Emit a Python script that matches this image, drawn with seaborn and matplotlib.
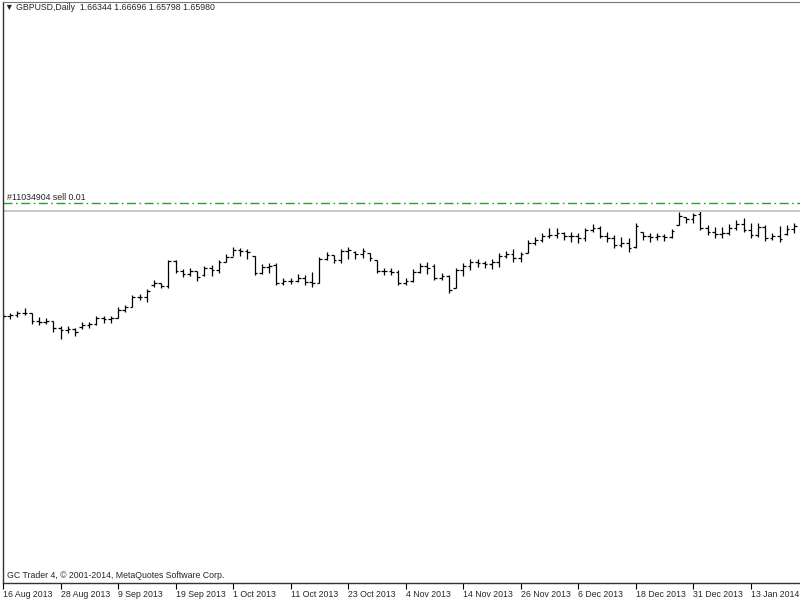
import matplotlib
matplotlib.use("Agg")
import matplotlib.pyplot as plt
import seaborn as sns

sns.set_style("white")
plt.rcParams['font.family'] = ['Liberation Sans', 'DejaVu Sans']

# GBPUSD daily bars, 16 Aug 2013 .. ~20 Jan 2014
opens = [1.554, 1.555, 1.556, 1.558, 1.558, 1.550, 1.549, 1.550, 1.543, 1.541,
         1.542, 1.544, 1.546, 1.547, 1.553, 1.552, 1.553, 1.561, 1.564, 1.574,
         1.574, 1.586, 1.588, 1.585, 1.610, 1.600, 1.597, 1.600, 1.596, 1.603,
         1.601, 1.609, 1.614, 1.621, 1.620, 1.615, 1.598, 1.604, 1.606, 1.588,
         1.590, 1.590, 1.593, 1.589, 1.588, 1.612, 1.616, 1.611, 1.620, 1.619,
         1.617, 1.618, 1.611, 1.600, 1.600, 1.599, 1.588, 1.590, 1.599, 1.605,
         1.605, 1.593, 1.595, 1.583, 1.601, 1.605, 1.609, 1.608, 1.607, 1.609,
         1.615, 1.617, 1.613, 1.618, 1.628, 1.631, 1.635, 1.636, 1.638, 1.635,
         1.635, 1.633, 1.641, 1.643, 1.635, 1.633, 1.626, 1.628, 1.624, 1.639,
         1.635, 1.634, 1.635, 1.634, 1.646, 1.654, 1.652, 1.657, 1.643, 1.639,
         1.637, 1.638, 1.643, 1.647, 1.641, 1.636, 1.644, 1.633, 1.635, 1.637,
         1.642]
highs = [1.558, 1.558, 1.560, 1.563, 1.558, 1.554, 1.553, 1.550, 1.545, 1.545,
         1.543, 1.549, 1.549, 1.555, 1.555, 1.555, 1.564, 1.566, 1.576, 1.577,
         1.582, 1.591, 1.588, 1.611, 1.611, 1.602, 1.603, 1.600, 1.605, 1.606,
         1.611, 1.617, 1.624, 1.623, 1.622, 1.615, 1.607, 1.608, 1.608, 1.593,
         1.593, 1.597, 1.596, 1.599, 1.614, 1.619, 1.616, 1.622, 1.624, 1.620,
         1.623, 1.618, 1.611, 1.603, 1.603, 1.601, 1.593, 1.602, 1.608, 1.609,
         1.607, 1.598, 1.596, 1.603, 1.608, 1.612, 1.612, 1.610, 1.612, 1.618,
         1.620, 1.622, 1.619, 1.631, 1.634, 1.638, 1.643, 1.643, 1.639, 1.639,
         1.638, 1.643, 1.647, 1.645, 1.639, 1.636, 1.634, 1.633, 1.648, 1.639,
         1.638, 1.638, 1.637, 1.642, 1.659, 1.654, 1.658, 1.660, 1.646, 1.644,
         1.644, 1.647, 1.651, 1.653, 1.648, 1.648, 1.646, 1.638, 1.645, 1.646,
         1.648]
lows = [1.551, 1.552, 1.554, 1.556, 1.547, 1.546, 1.547, 1.539, 1.532, 1.538,
        1.535, 1.542, 1.543, 1.546, 1.548, 1.548, 1.553, 1.559, 1.564, 1.571,
        1.569, 1.584, 1.583, 1.583, 1.598, 1.594, 1.595, 1.590, 1.595, 1.595,
        1.598, 1.609, 1.615, 1.615, 1.612, 1.596, 1.597, 1.598, 1.586, 1.586,
        1.587, 1.589, 1.586, 1.584, 1.588, 1.611, 1.608, 1.608, 1.612, 1.612,
        1.613, 1.610, 1.598, 1.596, 1.596, 1.586, 1.586, 1.589, 1.598, 1.597,
        1.591, 1.591, 1.578, 1.583, 1.595, 1.601, 1.604, 1.603, 1.602, 1.604,
        1.613, 1.609, 1.609, 1.618, 1.626, 1.629, 1.633, 1.633, 1.631, 1.629,
        1.628, 1.630, 1.639, 1.633, 1.629, 1.623, 1.624, 1.619, 1.623, 1.631,
        1.629, 1.631, 1.630, 1.633, 1.646, 1.648, 1.648, 1.641, 1.636, 1.633,
        1.633, 1.636, 1.641, 1.639, 1.633, 1.634, 1.630, 1.631, 1.629, 1.636,
        1.638]
closes = [1.555, 1.556, 1.558, 1.558, 1.550, 1.549, 1.550, 1.543, 1.541, 1.542,
          1.539, 1.546, 1.547, 1.553, 1.552, 1.553, 1.561, 1.564, 1.574, 1.574,
          1.580, 1.588, 1.585, 1.610, 1.600, 1.597, 1.600, 1.594, 1.603, 1.601,
          1.609, 1.614, 1.621, 1.620, 1.619, 1.598, 1.604, 1.605, 1.588, 1.590,
          1.590, 1.593, 1.589, 1.588, 1.612, 1.616, 1.611, 1.620, 1.621, 1.617,
          1.620, 1.613, 1.600, 1.600, 1.599, 1.588, 1.590, 1.599, 1.605, 1.603,
          1.593, 1.595, 1.581, 1.601, 1.605, 1.609, 1.608, 1.607, 1.609, 1.615,
          1.617, 1.613, 1.617, 1.628, 1.631, 1.635, 1.636, 1.638, 1.635, 1.635,
          1.633, 1.641, 1.643, 1.635, 1.633, 1.626, 1.628, 1.623, 1.645, 1.635,
          1.634, 1.635, 1.634, 1.640, 1.655, 1.652, 1.656, 1.643, 1.639, 1.637,
          1.638, 1.643, 1.647, 1.641, 1.636, 1.644, 1.633, 1.635, 1.632, 1.642,
          1.645]

tick_bars = [0, 8, 16, 24, 32, 40, 48, 56, 64, 72, 80, 88, 96, 104]
tick_labels = ['16 Aug 2013', '28 Aug 2013', '9 Sep 2013', '19 Sep 2013',
               '1 Oct 2013', '11 Oct 2013', '23 Oct 2013', '4 Nov 2013',
               '14 Nov 2013', '26 Nov 2013', '6 Dec 2013', '18 Dec 2013',
               '31 Dec 2013', '13 Jan 2014']

order_price = 1.668
bid_price = 1.6598

fig = plt.figure(figsize=(8, 6), dpi=100)
ax = fig.add_axes([3 / 800, 17 / 600, 797 / 800, 581 / 600])

x = list(range(len(opens)))
ax.vlines(x, lows, highs, color='black', lw=0.9)
ax.hlines(opens, [i - 0.38 for i in x], x, color='black', lw=0.9)
ax.hlines(closes, x, [i + 0.38 for i in x], color='black', lw=0.9)

# order line and bid line
ax.axhline(order_price, color='#2f9e2f', lw=1.0, linestyle=(0, (6.5, 2.5, 1.2, 2.5)))
ax.axhline(bid_price, color='#c8c8c8', lw=1.4)

ax.set_xlim(0, 797 / 7.19)
ax.set_ylim(1.288, 1.869)
ax.set_yticks([])
ax.set_xticks(tick_bars)
ax.set_xticklabels(tick_labels, ha='left', fontsize=6.3)
ax.tick_params(axis='x', direction='out', length=4, width=0.8, pad=1, color='black', bottom=True)

for s in ['left', 'bottom']:
    ax.spines[s].set_color('#333333')
    ax.spines[s].set_linewidth(1.0)
ax.spines['top'].set_color('#777777')
ax.spines['right'].set_visible(False)

fig.text(5 / 800, 1 - 8 / 600, '\u25bc GBPUSD,Daily  1.66344 1.66696 1.65798 1.65980',
         fontsize=6.3, va='center', ha='left')
fig.text(7 / 800, 1 - 197 / 600, '#11034904 sell 0.01',
         fontsize=6.3, va='center', ha='left')
fig.text(7 / 800, 1 - 576 / 600, 'GC Trader 4, \u00a9 2001-2014, MetaQuotes Software Corp.',
         fontsize=6.3, va='center', ha='left')

fig.savefig('out.png', dpi=100)
